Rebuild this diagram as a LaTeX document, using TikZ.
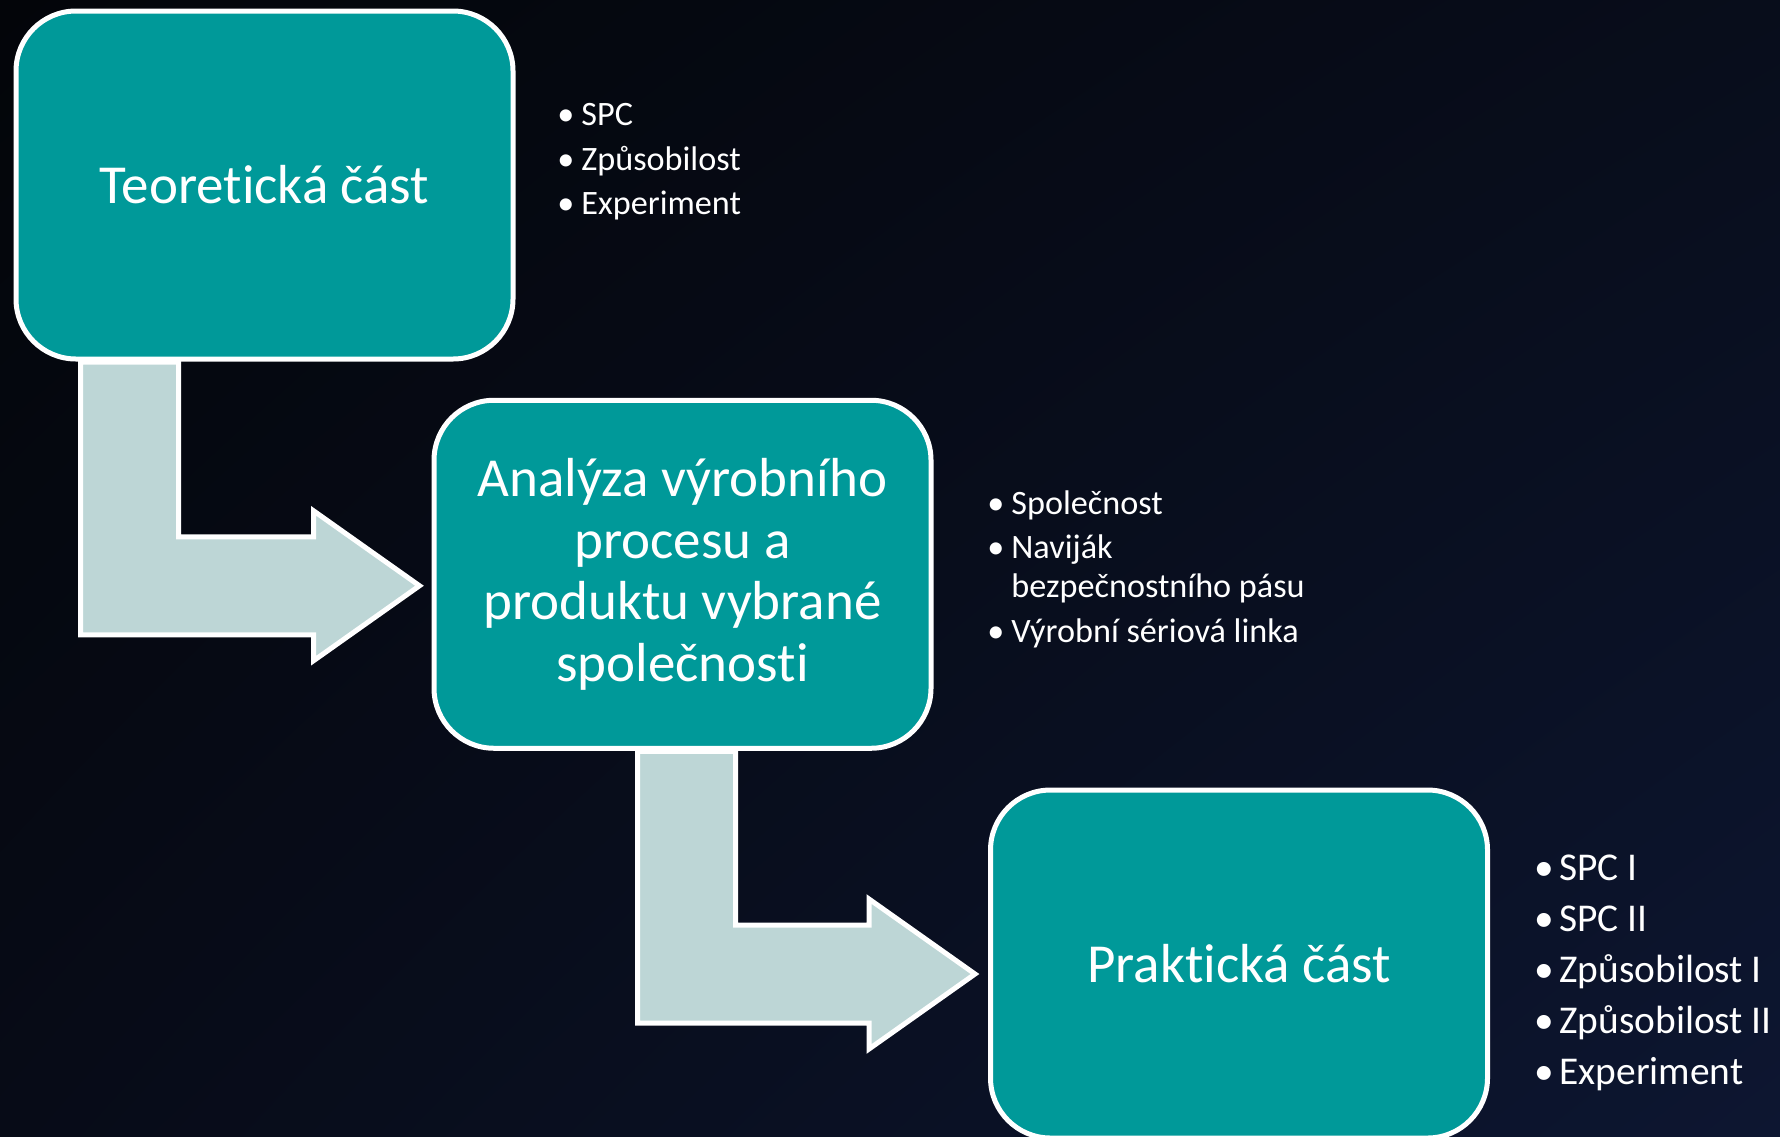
\documentclass[tikz,border=0pt]{standalone}
\usepackage{fontspec}
\setmainfont{Carlito}[Ligatures=NoCommon]
\usepackage{tikz}
\usetikzlibrary{calc,shadings}
\definecolor{bgtl}{HTML}{030509}
\definecolor{bgtr}{HTML}{080D1B}
\definecolor{bgbl}{HTML}{070B17}
\definecolor{bgbr}{HTML}{0D1631}
\definecolor{stepteal}{HTML}{009999}
\definecolor{arrowfill}{HTML}{BDD6D6}
\tikzset{
  stepbox/.style={draw=white,fill=stepteal,line width=2.5pt,rounded corners=30pt,
                  minimum width=248.5pt,minimum height=174pt,outer sep=0pt,
                  inner sep=4pt,align=center,text=white,
                  font=\fontsize{27.5pt}{30.75pt}\selectfont},
  bullets/.style={anchor=base west,inner sep=0pt,align=left,text=white,
                  font=\fontsize{17.1pt}{19.5pt}\selectfont},
  bigbullets/.style={bullets,font=\fontsize{19.7pt}{25.5pt}\selectfont},
  flowarrow/.style={draw=white,fill=arrowfill,line width=2.5pt,line join=miter}
}
\newcommand{\itm}[2][12pt]{\makebox[#1][l]{•}#2}
\newcommand{\hang}[2][12pt]{\hspace*{#1}#2}
% bent arrow from a stem top down and right to a tip
\newcommand{\bentarrow}[2]{%
  \draw[flowarrow] let \p1=(#1), \p2=(#2) in
    (\x1-24.5pt,\y1) -- (\x1-24.5pt,\y2-24.5pt) -- (\x2-53pt,\y2-24.5pt)
    -- (\x2-53pt,\y2-37.5pt) -- (\p2) -- (\x2-53pt,\y2+37.5pt)
    -- (\x2-53pt,\y2+24.5pt) -- (\x1+24.5pt,\y2+24.5pt) -- (\x1+24.5pt,\y1) -- cycle;}

\begin{document}
\begin{tikzpicture}[x=0.5pt,y=-0.5pt]
  \shade[upper left=bgtl,upper right=bgtr,lower left=bgbl,lower right=bgbr]
    (0,0) rectangle (1780,1136);
  \useasboundingbox (0,0) rectangle (1780,1136);
  \clip (0,0) rectangle (1780,1136);

  % the three steps
  \node[stepbox] (teorie) at (264.5,185) {Teoretická část};
  \node[stepbox] (analyza) at (682.5,574.25)
    {Analýza výrobního\\procesu a\\produktu vybrané\\společnosti};
  \node[stepbox] (praxe) at (1239,964) {Praktická část};

  % bent arrows between them
  \coordinate (a1top) at ($(teorie.south west)+(113.5,3)$);
  \coordinate (a1tip) at ($(analyza.west)+(-14.5,11.5)$);
  \coordinate (a2top) at ($(analyza.south)+(4,3)$);
  \coordinate (a2tip) at ($(praxe.west)+(-15.5,10)$);
  \bentarrow{a1top}{a1tip}
  \bentarrow{a2top}{a2tip}

  % bullet lists (placed at the baseline of their last line)
  \node[bullets] (list1) at (557,214.5)
    {\itm{SPC}\\[2.75pt]\itm{Způsobilost}\\[2.75pt]\itm{Experiment}};
  \node[bullets] (list2) at (987,642)
    {\itm{Společnost}\\[2.75pt]\itm{Naviják}\\\hang{bezpečnostního pásu}\\[2.75pt]\itm{Výrobní sériová linka}};
  \node[bigbullets] (list3) at (1534,1084)
    {\itm[12.5pt]{SPC I}\\\itm[12.5pt]{SPC II}\\\itm[12.5pt]{Způsobilost I}\\\itm[12.5pt]{Způsobilost II}\\\itm[12.5pt]{Experiment}};
\end{tikzpicture}
\end{document}
